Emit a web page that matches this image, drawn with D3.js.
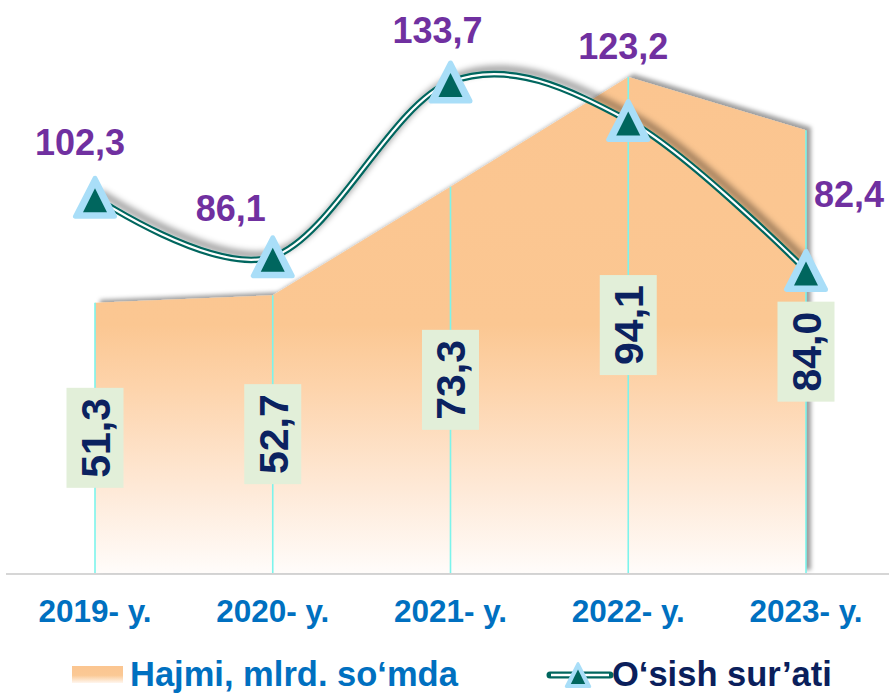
<!DOCTYPE html>
<html><head><meta charset="utf-8">
<script src="https://cdn.jsdelivr.net/npm/d3@7"></script>
<style>
body{margin:0;background:#fff}
svg{display:block}
text{font-family:"Liberation Sans",Arial,Helvetica,sans-serif;font-weight:bold}
</style>
</head><body>
<svg id="c" width="889" height="694"></svg>
<script>
// ---- data ----
const categories = ["2019- y.", "2020- y.", "2021- y.", "2022- y.", "2023- y."];
const volume = [51.3, 52.7, 73.3, 94.1, 84.0];      // Hajmi, mlrd. so'mda
const growth = [102.3, 86.1, 133.7, 123.2, 82.4];   // O'sish sur'ati
const seriesNames = ["Hajmi, mlrd. so‘mda", "O‘sish sur’ati"];

// ---- layout (not data) ----
const growthLabelOffsets = [[-15, -42], [-42, -36], [-13, -39], [-5, -62], [43, -63]];
const W = 889, H = 694;
const baseY = 573;

const fmt = v => d3.format(".1f")(v).replace(".", ",");

const svg = d3.select("#c");
const defs = svg.append("defs");

const x = d3.scalePoint().domain(categories).range([95, 806]);
const yVol = d3.scaleLinear().domain([0, 100]).range([baseY, 46]);
const yGr = d3.scaleLinear().domain([0, 143.5]).range([baseY, 46]);

// gradient for area
const grad = defs.append("linearGradient").attr("id", "areaGrad")
  .attr("gradientUnits", "userSpaceOnUse")
  .attr("x1", 0).attr("x2", 0).attr("y1", yVol(d3.max(volume))).attr("y2", baseY);
[[0, "#FBC590"], [0.5, "#FBC792"], [0.62, "#FDD3AA"], [0.82, "#FEE8D5"], [1, "#FFFCFA"]]
  .forEach(([o, c]) => grad.append("stop").attr("offset", o).attr("stop-color", c));
const grad2 = defs.append("linearGradient").attr("id", "swGrad")
  .attr("x1", 0).attr("x2", 0).attr("y1", 0).attr("y2", 1);
[[0, "#FBC590"], [0.55, "#FBC995"], [1, "#FFF6EE"]]
  .forEach(([o, c]) => grad2.append("stop").attr("offset", o).attr("stop-color", c));

function shadow(id, dx, dy, sd, op) {
  const f = defs.append("filter").attr("id", id)
    .attr("x", "-10%").attr("y", "-20%").attr("width", "130%").attr("height", "140%");
  f.append("feGaussianBlur").attr("in", "SourceAlpha").attr("stdDeviation", sd).attr("result", "b");
  f.append("feOffset").attr("in", "b").attr("dx", dx).attr("dy", dy).attr("result", "o");
  f.append("feFlood").attr("flood-color", "#000").attr("flood-opacity", op).attr("result", "fl");
  f.append("feComposite").attr("in", "fl").attr("in2", "o").attr("operator", "in").attr("result", "s");
  const m = f.append("feMerge");
  m.append("feMergeNode").attr("in", "s");
  m.append("feMergeNode").attr("in", "SourceGraphic");
}
shadow("areaSh", 5, -3, 2, 0.38);
shadow("lineSh", 5, -5, 3, 0.4);

// axis line
svg.append("line").attr("x1", 6).attr("x2", W).attr("y1", baseY + 1).attr("y2", baseY + 1)
  .attr("stroke", "#D6D6D6").attr("stroke-width", 2);

// area
const area = d3.area().x((d, i) => x(categories[i])).y0(baseY).y1(d => yVol(d));
svg.append("path").datum(volume).attr("d", area)
  .attr("fill", "url(#areaGrad)").attr("filter", "url(#areaSh)");

// drop lines
svg.append("g").selectAll("line").data(volume).join("line")
  .attr("x1", (d, i) => x(categories[i])).attr("x2", (d, i) => x(categories[i]))
  .attr("y1", d => yVol(d)).attr("y2", baseY)
  .attr("stroke", "#7CF4EC").attr("stroke-width", 1.6);

// volume labels (rotated, boxed)
const vl = svg.append("g").selectAll("g").data(volume).join("g")
  .attr("transform", (d, i) => `translate(${x(categories[i])},${(yVol(d) + baseY) / 2}) rotate(-90)`);
vl.append("rect").attr("x", -50).attr("y", -28.5).attr("width", 100).attr("height", 57)
  .attr("fill", "#E2EFD9");
vl.append("text").attr("text-anchor", "middle").attr("dy", "0.36em")
  .attr("font-size", 41).attr("fill", "#0B2260").text(d => fmt(d));

// growth line
const line = d3.line().x((d, i) => x(categories[i])).y(d => yGr(d)).curve(d3.curveCardinal.tension(0));
const lg = svg.append("g").attr("filter", "url(#lineSh)");
lg.append("path").datum(growth).attr("d", line).attr("fill", "none")
  .attr("stroke", "#00665E").attr("stroke-width", 6.5);
lg.append("path").datum(growth).attr("d", line).attr("fill", "none")
  .attr("stroke", "#FFFFFF").attr("stroke-width", 2.2);

// markers
function marker(g, s) {
  g.append("path")
    .attr("d", `M0,${-19 * s}L${-19.5 * s},${19 * s}L${19.5 * s},${19 * s}Z`)
    .attr("fill", "#A9DEF8").attr("stroke", "#A9DEF8").attr("stroke-width", 5 * s)
    .attr("stroke-linejoin", "round");
  g.append("path")
    .attr("d", `M0,${-9 * s}L${-12 * s},${15 * s}L${12 * s},${15 * s}Z`)
    .attr("fill", "#00665E");
}
svg.append("g").selectAll("g").data(growth).join("g")
  .attr("transform", (d, i) => `translate(${x(categories[i])},${yGr(d)})`)
  .each(function () { marker(d3.select(this), 1); });

// growth labels
svg.append("g").selectAll("text").data(growth).join("text")
  .attr("x", (d, i) => x(categories[i]) + growthLabelOffsets[i][0])
  .attr("y", (d, i) => yGr(d) + growthLabelOffsets[i][1])
  .attr("text-anchor", "middle").attr("font-size", 36).attr("fill", "#7030A0")
  .text(d => fmt(d));

// category labels
svg.append("g").selectAll("text").data(categories).join("text")
  .attr("x", d => x(d)).attr("y", 622).attr("text-anchor", "middle")
  .attr("font-size", 31.5).attr("fill", "#0070C0").text(d => d);

// legend
svg.append("rect").attr("x", 72).attr("y", 666).attr("width", 51).attr("height", 17)
  .attr("fill", "url(#swGrad)");
svg.append("text").attr("x", 130).attr("y", 686).attr("font-size", 34.5)
  .attr("fill", "#0070C0").text(seriesNames[0]);

const lgx = 550, lgy = 675;
svg.append("line").attr("x1", lgx).attr("x2", lgx + 60).attr("y1", lgy).attr("y2", lgy)
  .attr("stroke", "#00665E").attr("stroke-width", 7).attr("stroke-linecap", "round");
svg.append("line").attr("x1", lgx + 1).attr("x2", lgx + 59).attr("y1", lgy).attr("y2", lgy)
  .attr("stroke", "#FFFFFF").attr("stroke-width", 2.5);
marker(svg.append("g").attr("transform", `translate(${lgx + 28},${lgy})`), 0.6);
svg.append("text").attr("x", 612).attr("y", 686).attr("font-size", 34.5)
  .attr("fill", "#0B1F5C").text(seriesNames[1]);
</script>
</body></html>
